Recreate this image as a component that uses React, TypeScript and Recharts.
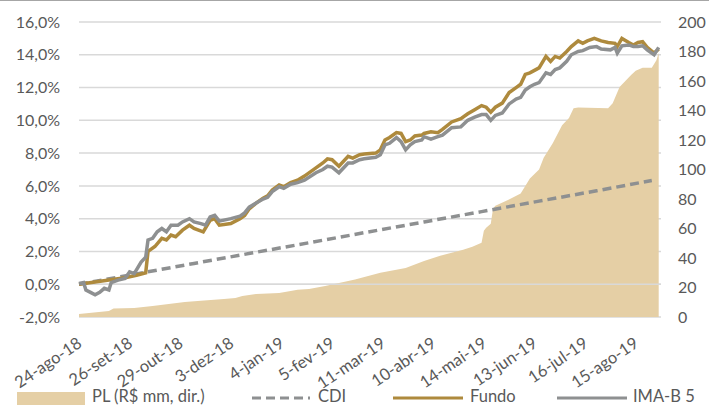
import { ComposedChart, Area, Line, XAxis, YAxis, CartesianGrid, ReferenceLine } from 'recharts';

const TAN = '#E5CFA5';
const GOLD = '#AE8A3D';
const GRAY = '#8E9091';
const TEXT = '#595959';
const FONT = 'Lato, "Open Sans", sans-serif';

// dias úteis desde 24-ago-18 -> rótulos do eixo
const tickDays = [0, 22, 44, 66, 88, 110, 132, 154, 176, 198, 220, 242];
const tickLabels = [
  '24-ago-18', '26-set-18', '29-out-18', '3-dez-18', '4-jan-19', '5-fev-19',
  '11-mar-19', '10-abr-19', '14-mai-19', '13-jun-19', '16-jul-19', '15-ago-19',
];

const leftTicks = [-2, 0, 2, 4, 6, 8, 10, 12, 14, 16];
const rightTicks = [0, 20, 40, 60, 80, 100, 120, 140, 160, 180, 200];

// [dia, R$ mm]
const pl: [number, number][] = [
  [0, 2.0], [13, 4.0], [15, 5.8], [24, 6.1], [32, 7.5], [46, 10.2], [53, 11.0],
  [63, 12.2], [68, 12.9], [71, 14.3], [77, 15.6], [87, 16.3], [92, 17.7], [95, 18.4],
  [100, 19.0], [107, 21.1], [120, 25.5], [131, 30.0], [142, 33.3], [150, 38.0],
  [157, 41.5], [167, 45.6], [171, 47.6], [175, 50.3], [176, 58.5], [177, 60.5],
  [179, 63.3], [180, 73.5], [181, 75.5], [186, 79.0], [192, 83.7], [196, 93.9],
  [200, 100.0], [202, 108.0], [206, 118.0], [210, 130.0], [213, 135.0], [215, 141.5],
  [217, 142.0], [230, 141.5], [232, 145.0], [235, 156.0], [240, 164.0], [242, 167.0],
  [245, 169.0], [249, 169.0], [251, 174.0], [252, 179.0],
];

// [dia, %]
const cdi: [number, number][] = [
  [0, 0.0], [25, 0.63], [50, 1.27], [75, 1.9], [100, 2.53], [125, 3.17],
  [150, 3.8], [175, 4.43], [200, 5.07], [225, 5.7], [249, 6.33],
];

const fundo: [number, number][] = [
  [0, 0.0], [10, 0.2], [20, 0.4], [25, 0.55], [29, 0.7], [30, 2.0], [33, 2.3],
  [36, 2.8], [38, 2.7], [40, 3.0], [42, 2.9], [45, 3.3], [48, 3.6], [50, 3.4],
  [54, 3.2], [57, 3.9], [59, 4.0], [61, 3.6], [66, 3.7], [70, 4.0], [72, 4.2],
  [74, 4.6], [77, 4.95], [80, 5.25], [82, 5.4], [84, 5.75], [87, 6.05], [89, 5.95],
  [92, 6.2], [95, 6.35], [98, 6.6], [103, 7.1], [106, 7.4], [108, 7.65], [110, 7.6],
  [113, 7.2], [117, 7.8], [119, 7.7], [122, 7.9], [124, 7.95], [129, 8.0], [131, 8.2],
  [133, 8.8], [135, 8.95], [138, 9.25], [140, 9.2], [142, 8.7], [144, 8.8], [146, 9.05],
  [149, 9.1], [150, 9.2], [153, 9.3], [156, 9.25], [158, 9.45], [162, 9.9], [166, 10.1],
  [169, 10.4], [172, 10.65], [175, 10.9], [177, 10.8], [179, 10.5], [181, 10.8],
  [184, 11.05], [187, 11.7], [190, 12.0], [192, 12.2], [194, 12.8], [196, 12.9],
  [198, 13.05], [200, 13.2], [203, 13.9], [205, 13.6], [207, 13.9], [209, 13.8],
  [212, 14.2], [214, 14.5], [217, 14.85], [219, 14.7], [221, 14.85], [224, 15.0],
  [227, 14.85], [230, 14.75], [233, 14.7], [234, 14.5], [236, 15.0], [239, 14.75],
  [241, 14.6], [243, 14.75], [245, 14.8], [247, 14.45], [250, 14.1], [252, 14.35],
];

const imab5: [number, number][] = [
  [0, 0.05], [2, 0.1], [3, -0.35], [5, -0.5], [7, -0.65], [9, -0.5], [11, -0.25],
  [13, -0.35], [14, 0.1], [17, 0.25], [20, 0.35], [22, 0.75], [24, 0.65], [27, 1.35],
  [29, 1.65], [30, 2.7], [32, 2.8], [34, 3.2], [36, 3.4], [38, 3.2], [40, 3.6],
  [43, 3.6], [45, 3.8], [48, 4.0], [50, 3.8], [53, 3.7], [55, 3.6], [57, 4.1],
  [59, 4.2], [61, 3.85], [66, 4.0], [70, 4.15], [72, 4.35], [74, 4.7], [77, 4.95],
  [80, 5.2], [82, 5.3], [84, 5.65], [87, 5.95], [89, 5.85], [92, 6.1], [95, 6.2],
  [98, 6.35], [103, 6.8], [106, 7.0], [108, 7.2], [110, 7.15], [113, 6.8], [117, 7.4],
  [119, 7.4], [122, 7.6], [124, 7.65], [129, 7.75], [131, 7.9], [133, 8.5], [135, 8.6],
  [138, 8.95], [140, 8.7], [142, 8.2], [144, 8.5], [146, 8.7], [149, 8.8], [150, 9.0],
  [153, 8.85], [156, 9.0], [158, 9.1], [162, 9.55], [166, 9.6], [169, 10.0], [172, 10.2],
  [175, 10.35], [177, 10.35], [179, 10.0], [181, 10.3], [184, 10.45], [187, 11.0],
  [190, 11.3], [192, 11.4], [194, 11.85], [196, 12.05], [198, 12.2], [200, 12.3],
  [203, 12.9], [205, 12.8], [207, 13.1], [209, 13.2], [212, 13.6], [214, 14.0],
  [217, 14.2], [219, 14.25], [222, 14.45], [225, 14.5], [227, 14.35], [231, 14.3],
  [233, 14.45], [234, 14.1], [236, 14.55], [239, 14.6], [241, 14.5], [243, 14.5],
  [245, 14.55], [247, 14.3], [250, 14.0], [252, 14.45],
];

const toRows = (s: [number, number][]) => s.map(([d, v]) => ({ d, v }));

const pct = (v: number) => v.toFixed(1).replace('.', ',') + '%';

function DateTick(props: any) {
  const { x, y, payload } = props;
  const i = tickDays.indexOf(payload.value);
  return (
    <g transform={`translate(${x + 4},${y + 21})`}>
      <text
        x={0}
        y={0}
        transform="rotate(-34)"
        textAnchor="end"
        fill={TEXT}
        fontSize={16.5}
        fontFamily={FONT}
      >
        {tickLabels[i]}
      </text>
    </g>
  );
}

function LegendRow() {
  const ty = 401;
  const ly = 397;
  const fs = 16.5;
  return (
    <svg width={709} height={405} style={{ position: 'absolute', left: 0, top: 0, pointerEvents: 'none' }}>
      <rect x={17} y={391} width={68} height={16} fill={TAN} />
      <text x={92} y={ty} fill={TEXT} fontSize={fs} fontFamily={FONT}>PL (R$ mm, dir.)</text>
      <line x1={252} x2={310} y1={ly} y2={ly} stroke={GRAY} strokeWidth={3} strokeDasharray="9 5" />
      <text x={318} y={ty} fill={TEXT} fontSize={fs} fontFamily={FONT}>CDI</text>
      <line x1={393} x2={463} y1={ly} y2={ly} stroke={GOLD} strokeWidth={3} />
      <text x={470} y={ty} fill={TEXT} fontSize={fs} fontFamily={FONT}>Fundo</text>
      <line x1={557} x2={627} y1={ly} y2={ly} stroke={GRAY} strokeWidth={3} />
      <text x={633} y={ty} fill={TEXT} fontSize={fs} fontFamily={FONT}>IMA-B 5</text>
    </svg>
  );
}

export default function App() {
  return (
    <div
      style={{
        position: 'absolute', left: 0, top: 0, width: 709, height: 405,
        background: '#fff', overflow: 'hidden', borderTop: '1px solid #a6a6a6', boxSizing: 'border-box',
      }}
    >
      <ComposedChart
        width={709}
        height={404}
        margin={{ top: 21, right: 0, bottom: 0, left: 0 }}
      >
        <CartesianGrid yAxisId="left" vertical={false} stroke="#D9D9D9" strokeWidth={1.5} />
        <XAxis
          dataKey="d"
          type="number"
          domain={[0, 253]}
          ticks={tickDays}
          interval={0}
          axisLine={false}
          tickLine={false}
          height={88}
          tick={<DateTick />}
          allowDuplicatedCategory={false}
        />
        <YAxis
          yAxisId="left"
          domain={[-2, 16]}
          ticks={leftTicks}
          tickFormatter={pct}
          axisLine={false}
          tickLine={false}
          width={79}
          tickMargin={13}
          tick={{ fill: TEXT, fontSize: 16, fontFamily: FONT }}
        />
        <YAxis
          yAxisId="right"
          orientation="right"
          domain={[0, 200]}
          ticks={rightTicks}
          axisLine={false}
          tickLine={false}
          width={48}
          tickMargin={11}
          tick={{ fill: TEXT, fontSize: 16, fontFamily: FONT }}
        />
        <Area
          yAxisId="right"
          data={toRows(pl)}
          dataKey="v"
          type="linear"
          fill={TAN}
          fillOpacity={1}
          stroke="none"
          isAnimationActive={false}
        />
        {/* eixo de categorias cruza em 0% e fica sobre a área */}
        <ReferenceLine yAxisId="left" y={0} stroke="#D9D9D9" strokeWidth={1.5} />
        <Line
          yAxisId="left"
          data={toRows(cdi)}
          dataKey="v"
          type="linear"
          stroke={GRAY}
          strokeWidth={3.5}
          strokeDasharray="9 5"
          dot={false}
          isAnimationActive={false}
        />
        <Line
          yAxisId="left"
          data={toRows(fundo)}
          dataKey="v"
          type="linear"
          stroke={GOLD}
          strokeWidth={3.5}
          dot={false}
          isAnimationActive={false}
        />
        <Line
          yAxisId="left"
          data={toRows(imab5)}
          dataKey="v"
          type="linear"
          stroke={GRAY}
          strokeWidth={3.5}
          dot={false}
          isAnimationActive={false}
        />
      </ComposedChart>
      <LegendRow />
    </div>
  );
}
